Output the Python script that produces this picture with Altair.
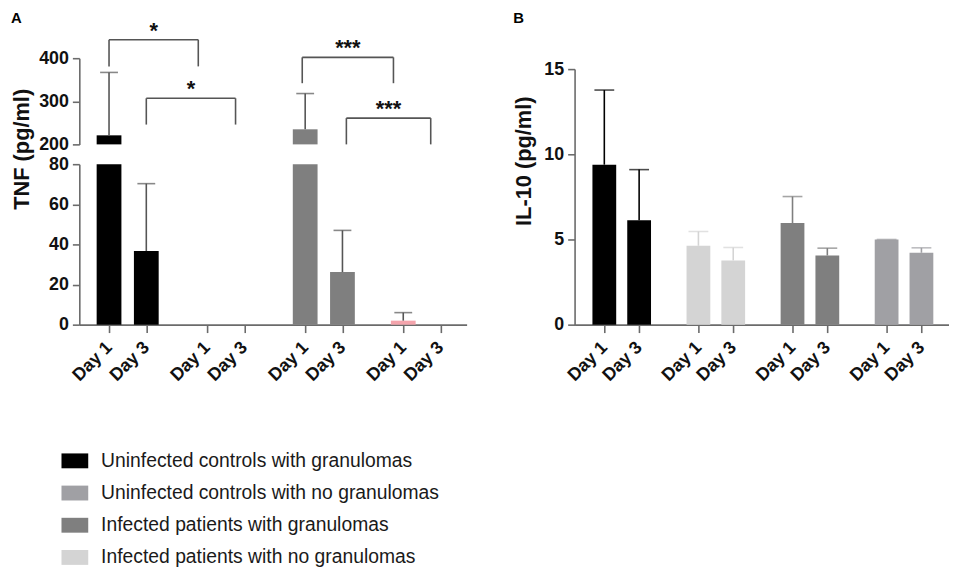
import altair as alt
import pandas as pd

FONT = "Liberation Sans"

# ---------------- data ----------------
categories = [
    "Uninfected controls with granulomas",
    "Uninfected controls with no granulomas",
    "Infected patients with granulomas",
    "Infected patients with no granulomas",
]
cat_colors = ["#000000", "#a0a0a4", "#7f7f7f", "#d4d4d4"]
extra_cat = "TNF group 4"
extra_color = "#f4a4ac"

days = ["Day 1", "Day 3"]
group_index = [0, 0, 1, 1, 2, 2, 3, 3]
day_list = days * 4

# Panel A: TNF (pg/ml)
tnf_category = [categories[0]] * 2 + [categories[1]] * 2 + [categories[2]] * 2 + [extra_cat] * 2
tnf_mean = [221, 36.7, 0, 0, 235, 26.2, 2.0, 0]
tnf_upper = [367, 70.3, 0, 0, 318, 47, 6.0, 0]

# significance brackets (x in group units, y in pg/ml)
br_start = [0.0, 0.38, 1.97, 2.42]
br_end = [0.91, 1.29, 2.90, 3.28]
br_top = [443, 307, 402, 261]
br_bottom = [381, 246, 342, 200]
br_label = ["*", "*", "***", "***"]

# Panel B: IL-10 (pg/ml)
il_category = [categories[0]] * 2 + [categories[3]] * 2 + [categories[2]] * 2 + [categories[1]] * 2
il_mean = [9.39, 6.13, 4.63, 3.77, 5.96, 4.06, 5.0, 4.22]
il_upper = [13.77, 9.1, 5.47, 4.53, 7.52, 4.49, 5.0, 4.51]

# ---------------- helpers ----------------
OFF_A = 0.38
OFF_B = 0.37

tnf_df = pd.DataFrame({"g": group_index, "day": day_list, "cat": tnf_category,
                       "mean": tnf_mean, "upper": tnf_upper})
il_df = pd.DataFrame({"g": group_index, "day": day_list, "cat": il_category,
                      "mean": il_mean, "upper": il_upper})
br_df = pd.DataFrame({"x1": br_start, "x2": br_end, "top": br_top,
                      "bottom": br_bottom, "label": br_label})

ticks_A = [g + (OFF_A if d == "Day 3" else 0) for g, d in zip(group_index, day_list)]
ticks_B = [g + (OFF_B if d == "Day 3" else 0) for g, d in zip(group_index, day_list)]

color_scale = alt.Scale(domain=categories + [extra_cat], range=cat_colors + [extra_color])
legend = alt.Legend(
    orient="none", legendX=-18, legendY=393, title=None, values=categories,
    direction="vertical",
    symbolType="M-1,-0.556L1,-0.556L1,0.556L-1,0.556Z", symbolSize=729,
    symbolStrokeWidth=0, symbolOpacity=1,
    labelFont=FONT, labelFontSize=19.5, labelFontWeight="normal", labelColor="#1a1a1a",
    labelLimit=0, labelOffset=13, rowPadding=9.5,
)
color_enc = alt.Color("cat:N", scale=color_scale, legend=legend)
whisk_color = alt.condition(f"datum.cat == '{extra_cat}'", alt.value("#444"),
                            alt.Color("cat:N", scale=color_scale, legend=legend))

label_expr = "datum.value % 1 == 0 ? 'Day 1' : 'Day 3'"


def x_axis(values):
    return alt.Axis(values=values, labelExpr=label_expr, labelAngle=-45, title=None,
                    tickSize=8, labelPadding=12, labelFontSize=18, labelAlign="right",
                    labelBaseline="middle", labelOverlap=False)


# ---------------- Panel A ----------------
xA_scale = alt.Scale(domain=[-0.303, 3.646], nice=False, zero=False, padding=0)
baseA = alt.Chart(tnf_df).transform_calculate(
    pos=f"datum.g + (datum.day == 'Day 3' ? {OFF_A} : 0)")

# upper segment (200-400)
upA_scale = alt.Scale(domain=[200, 400], nice=False, zero=False)
upA_axis = alt.Axis(values=[200, 300, 400], title=None)
upA_bars = baseA.transform_filter("datum.mean >= 200").mark_bar(width=25).encode(
    x=alt.X("pos:Q", scale=xA_scale, axis=None),
    y=alt.Y("mean:Q", scale=upA_scale, axis=upA_axis),
    y2=alt.datum(200),
    color=color_enc,
)
upA_whisk = baseA.transform_filter("datum.mean >= 200 && datum.upper > datum.mean").mark_rule(
    strokeWidth=1.6).encode(
    x=alt.X("pos:Q", scale=xA_scale, axis=None),
    y=alt.Y("mean:Q", scale=upA_scale, axis=upA_axis), y2="upper:Q",
    color=alt.value("#555"),
)
upA_cap = baseA.transform_filter("datum.mean >= 200 && datum.upper > datum.mean").mark_tick(
    orient="horizontal", size=18, thickness=1.6).encode(
    x=alt.X("pos:Q", scale=xA_scale, axis=None),
    y=alt.Y("upper:Q", scale=upA_scale, axis=upA_axis),
    color=alt.value("#555"),
)
br_base = alt.Chart(br_df)
br_h = br_base.mark_rule(color="#555", strokeWidth=1.6).encode(
    x=alt.X("x1:Q", scale=xA_scale, axis=None), x2="x2:Q",
    y=alt.Y("top:Q", scale=upA_scale, axis=upA_axis),
)
br_v = br_base.transform_fold(["x1", "x2"], as_=["side", "xleg"]).mark_rule(
    color="#555", strokeWidth=1.6).encode(
    x=alt.X("xleg:Q", scale=xA_scale, axis=None),
    y=alt.Y("bottom:Q", scale=upA_scale, axis=upA_axis), y2="top:Q",
)
br_t = br_base.transform_calculate(mid="(datum.x1 + datum.x2) / 2").mark_text(
    font=FONT, fontSize=22, fontWeight="bold", baseline="alphabetic", color="#111",
    dy=-2).encode(
    x=alt.X("mid:Q", scale=xA_scale, axis=None),
    y=alt.Y("top:Q", scale=upA_scale, axis=upA_axis),
    text="label:N",
)
upA = alt.layer(upA_bars, upA_whisk, upA_cap, br_h, br_v, br_t).properties(width=391, height=87)

# lower segment (0-80)
lowA_scale = alt.Scale(domain=[0, 80], nice=False, clamp=True)
lowA_axis = alt.Axis(values=[0, 20, 40, 60, 80], title="TNF (pg/ml)",
                     titleX=-46, titleY=-15.5, titleAngle=-90, titleBaseline="bottom",
                     titleAlign="center", titleFontSize=22)
lowA_bars = baseA.mark_bar(width=25).encode(
    x=alt.X("pos:Q", scale=xA_scale, axis=x_axis(ticks_A)),
    y=alt.Y("mean:Q", scale=lowA_scale, axis=lowA_axis),
    color=color_enc,
)
lowA_filter = "datum.upper > datum.mean && datum.upper <= 80"
lowA_whisk = baseA.transform_filter(lowA_filter).mark_rule(strokeWidth=1.6).encode(
    x=alt.X("pos:Q", scale=xA_scale, axis=x_axis(ticks_A)),
    y=alt.Y("mean:Q", scale=lowA_scale, axis=lowA_axis), y2="upper:Q",
    color=alt.value("#555"),
)
lowA_cap = baseA.transform_filter(lowA_filter).mark_tick(
    orient="horizontal", size=18, thickness=1.6).encode(
    x=alt.X("pos:Q", scale=xA_scale, axis=x_axis(ticks_A)),
    y=alt.Y("upper:Q", scale=lowA_scale, axis=lowA_axis),
    color=alt.value("#555"),
)
lowA = alt.layer(lowA_bars, lowA_whisk, lowA_cap).properties(width=391, height=162)

panelA = alt.vconcat(upA, lowA, spacing=20, bounds="flush",
                     title=alt.TitleParams("A", anchor="start", font=FONT, fontSize=15,
                                           fontWeight="bold", color="black", offset=-6))

# ---------------- Panel B ----------------
B_TOP = 11  # plot top sits below the row line
B_H = 258
xB_scale = alt.Scale(domain=[-0.316, 3.663], nice=False, zero=False, padding=0)
baseB = alt.Chart(il_df).transform_calculate(
    pos=f"datum.g + (datum.day == 'Day 3' ? {OFF_B} : 0)")
yB_scale = alt.Scale(domain=[0, 15], nice=False, range=[B_H + B_TOP, B_TOP])
yB_axis = alt.Axis(values=[0, 5, 10, 15], title="IL-10 (pg/ml)",
                   titleX=-39, titleY=103.5, titleAngle=-90, titleBaseline="bottom",
                   titleAlign="center", titleFontSize=22)
b_bars = baseB.mark_bar(width=24).encode(
    x=alt.X("pos:Q", scale=xB_scale, axis=x_axis(ticks_B)),
    y=alt.Y("mean:Q", scale=yB_scale, axis=yB_axis),
    color=color_enc,
)
b_whisk = baseB.transform_filter("datum.upper > datum.mean").mark_rule(strokeWidth=1.6).encode(
    x=alt.X("pos:Q", scale=xB_scale, axis=x_axis(ticks_B)),
    y=alt.Y("mean:Q", scale=yB_scale, axis=yB_axis), y2="upper:Q",
    color=whisk_color,
)
b_cap = baseB.mark_tick(orient="horizontal", size=20, thickness=1.6).encode(
    x=alt.X("pos:Q", scale=xB_scale, axis=x_axis(ticks_B)),
    y=alt.Y("upper:Q", scale=yB_scale, axis=yB_axis),
    color=whisk_color,
)
panelB = alt.layer(b_bars, b_whisk, b_cap).properties(
    width=378, height=B_H + B_TOP,
    title=alt.TitleParams("B", anchor="start", font=FONT, fontSize=15,
                          fontWeight="bold", color="black", offset=33))

chart = alt.hconcat(panelA, panelB, spacing=47,
                    padding={"top": 0, "left": 3, "right": 0, "bottom": 0}).configure(
    font=FONT,
).configure_view(stroke=None).configure_axis(
    labelFont=FONT, labelFontWeight="bold", labelFontSize=18, labelColor="#111",
    titleFont=FONT, titleFontWeight="bold", titleColor="#111",
    domainColor="#6b6b6b", tickColor="#6b6b6b", domainWidth=1.6, tickWidth=1.6,
    tickSize=7, labelPadding=4, grid=False,
)

chart.save("out.html", embed_options={"renderer": "svg", "actions": False})
